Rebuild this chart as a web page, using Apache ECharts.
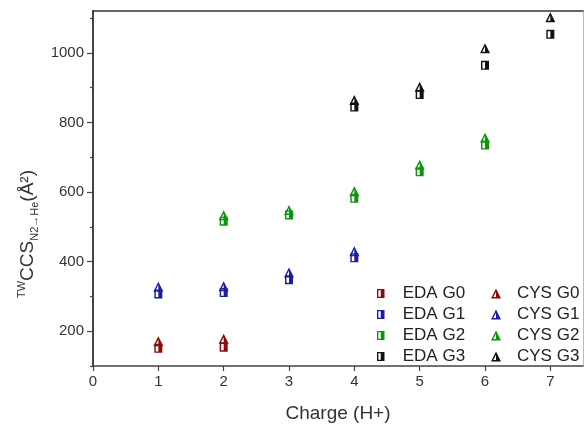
<!DOCTYPE html>
<html>
<head>
<meta charset="utf-8">
<script src="https://cdn.jsdelivr.net/npm/echarts@6/dist/echarts.min.js"></script>
<style>
  html, body { margin: 0; padding: 0; background: #fff; }
  #main { width: 584px; height: 428px; }
</style>
</head>
<body>
<div id="main"></div>
<script>
var myChart = echarts.init(document.getElementById('main'));

// charge states for each generation
var chargeG0 = [1, 2]
var chargeG1 = [1, 2, 3, 4]
var chargeG2 = [2, 3, 4, 5, 6]
var chargeG3 = [4, 5, 6, 7]

// CCS values
var edaG0 = [151, 154]
var edaG1 = [307, 311, 348, 411]
var edaG2 = [516, 534, 582, 658, 735]
var edaG3 = [844, 880, 964, 1053]
var cysG0 = [171, 178]
var cysG1 = [328, 329, 369, 430]
var cysG2 = [533, 548, 602, 678, 756]
var cysG3 = [864, 902, 1013, 1102]

var xTicks = [0, 1, 2, 3, 4, 5, 6, 7]
var yMajor = [200, 400, 600, 800, 1000]
var yMinor = [100, 300, 500, 700, 900, 1100]

var colors = ['#8b0a0a', '#1c1c9c', '#0a960a', '#111111']

// half filled symbols (left half hollow)
var squarePath = 'path://M0 0H10V12H0Z M1.8 1.8V10.2H5V1.8Z'
var trianglePath = 'path://M5 0L10 10H0Z M5 3.2L2.3 8.5H5Z'

function pairs(xs, ys) {
    return xs.map(function (x, i) { return [x, ys[i]] })
}

var font = 'Arial, "Liberation Sans", sans-serif'

function makeSeries(name, xs, ys, sym, size, color) {
    return {
        name: name,
        type: 'scatter',
        symbol: sym,
        symbolSize: size,
        itemStyle: { color: color, opacity: 1 },
        data: pairs(xs, ys),
        z: 3
    }
}

var series = [
    makeSeries('EDA G0', chargeG0, edaG0, squarePath, [8, 9], colors[0]),
    makeSeries('EDA G1', chargeG1, edaG1, squarePath, [8, 9], colors[1]),
    makeSeries('EDA G2', chargeG2, edaG2, squarePath, [8, 9], colors[2]),
    makeSeries('EDA G3', chargeG3, edaG3, squarePath, [8, 9], colors[3]),
    makeSeries('CYS G0', chargeG0, cysG0, trianglePath, [10, 10], colors[0]),
    makeSeries('CYS G1', chargeG1, cysG1, trianglePath, [10, 10], colors[1]),
    makeSeries('CYS G2', chargeG2, cysG2, trianglePath, [10, 10], colors[2]),
    makeSeries('CYS G3', chargeG3, cysG3, trianglePath, [10, 10], colors[3])
]

var legendText = { fontSize: 17, color: '#222', fontFamily: font }

var option = {
    animation: false,
    textStyle: { fontFamily: font },
    grid: { left: 93, right: 1, top: 11, bottom: 58 },
    legend: [
        {
            data: ['EDA G0', 'EDA G1', 'EDA G2', 'EDA G3'],
            orient: 'vertical', left: 372, top: 280,
            itemWidth: 8, itemHeight: 9, itemGap: 4,
            textStyle: Object.assign({ padding: [0, 0, 0, 13] }, legendText)
        },
        {
            data: ['CYS G0', 'CYS G1', 'CYS G2', 'CYS G3'],
            orient: 'vertical', left: 486, top: 280,
            itemWidth: 10, itemHeight: 10, itemGap: 4,
            textStyle: Object.assign({ padding: [0, 0, 0, 11] }, legendText)
        }
    ],
    xAxis: [
        {
            type: 'value', min: 0, max: 7.5,
            name: 'Charge (H+)', nameLocation: 'middle', nameGap: 38,
            nameTextStyle: { fontSize: 19, color: '#333' },
            axisLine: { show: true, onZero: false, lineStyle: { color: '#444', width: 1.5 } },
            axisTick: { show: true, length: 5, customValues: xTicks, lineStyle: { color: '#444', width: 1.2 } },
            axisLabel: { fontSize: 15, color: '#333', margin: 8, customValues: xTicks },
            splitLine: { show: false }
        },
        {
            type: 'value', min: 0, max: 7.5, position: 'top',
            axisLine: { show: true, onZero: false, lineStyle: { color: '#333', width: 1.5 } },
            axisTick: { show: false }, axisLabel: { show: false }, splitLine: { show: false }
        }
    ],
    yAxis: [
        {
            type: 'value', min: 100, max: 1120, position: 'left',
            axisLine: { show: true, onZero: false, lineStyle: { color: '#444', width: 2 } },
            axisTick: { show: true, length: 6, customValues: yMajor, lineStyle: { color: '#444', width: 1.2 } },
            axisLabel: {
                fontSize: 15, color: '#333', margin: 9, customValues: yMajor,
                formatter: function (v) { return String(v) }
            },
            splitLine: { show: false }
        },
        {
            type: 'value', min: 100, max: 1120, position: 'left',
            axisLine: { show: false },
            axisTick: { show: true, length: 3, customValues: yMinor, lineStyle: { color: '#444', width: 1.2 } },
            axisLabel: { show: false }, splitLine: { show: false }
        },
        {
            type: 'value', min: 100, max: 1120, position: 'right',
            axisLine: { show: true, onZero: false, lineStyle: { color: '#bbb', width: 1 } },
            axisTick: { show: false }, axisLabel: { show: false }, splitLine: { show: false }
        }
    ],
    graphic: [{
        type: 'text',
        x: 28, y: 234,
        rotation: Math.PI / 2,
        style: {
            text: '{sup|TW}{b|CCS}{sub|N2\u2192He}{b|(\u00c5\u00b2)}',
            align: 'center', verticalAlign: 'middle',
            fill: '#333',
            rich: {
                b: { fontSize: 19, fontFamily: font, fill: '#333', lineHeight: 24 },
                sup: { fontSize: 11, fontFamily: font, fill: '#333', verticalAlign: 'top', lineHeight: 24, padding: [0, 0, 8, 0] },
                sub: { fontSize: 11, fontFamily: font, fill: '#333', verticalAlign: 'bottom', lineHeight: 24, padding: [6, 0, 0, 0] }
            }
        }
    }],
    series: series
};

myChart.setOption(option);
</script>
</body>
</html>
